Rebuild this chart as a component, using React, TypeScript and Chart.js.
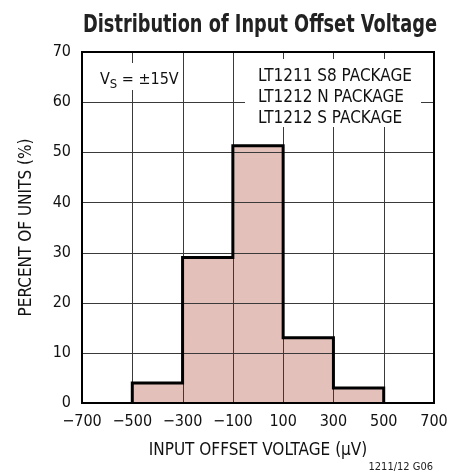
import React, { useEffect, useRef } from "react";
import { Chart, registerables } from "chart.js";

Chart.register(...registerables);

// Histogram bins (μV) and percent of units
const binEdges = [-500, -300, -100, 100, 300, 500];
const percents = [4, 29, 51.3, 13, 3];
const xTicks = [-700, -500, -300, -100, 100, 300, 500, 700];
const yTicks = [0, 10, 20, 30, 40, 50, 60, 70];
const legendLines = ["LT1211 S8 PACKAGE", "LT1212 N PACKAGE", "LT1212 S PACKAGE"];

const FONT = '"Liberation Sans Narrow", "DejaVu Sans Condensed", sans-serif';

const overlayPlugin = {
  id: "overlay",
  afterDatasetsDraw(chart: any) {
    const { ctx, chartArea: a, scales } = chart;
    const x = scales.x;
    const y = scales.y;
    ctx.save();
    // grid lines on top of the fill
    ctx.strokeStyle = "#3a3a3a";
    ctx.lineWidth = 1;
    for (const v of xTicks) {
      const px = Math.round(x.getPixelForValue(v)) + 0.5;
      ctx.beginPath();
      ctx.moveTo(px, a.top);
      ctx.lineTo(px, a.bottom);
      ctx.stroke();
    }
    for (const v of yTicks) {
      const py = Math.round(y.getPixelForValue(v)) + 0.5;
      ctx.beginPath();
      ctx.moveTo(a.left, py);
      ctx.lineTo(a.right, py);
      ctx.stroke();
    }
    // histogram outline
    ctx.strokeStyle = "#000";
    ctx.lineWidth = 3;
    ctx.lineJoin = "miter";
    ctx.beginPath();
    ctx.moveTo(x.getPixelForValue(binEdges[0]), y.getPixelForValue(0));
    for (let i = 0; i < percents.length; i++) {
      const py = y.getPixelForValue(percents[i]);
      ctx.lineTo(x.getPixelForValue(binEdges[i]), py);
      ctx.lineTo(x.getPixelForValue(binEdges[i + 1]), py);
    }
    ctx.lineTo(x.getPixelForValue(binEdges[binEdges.length - 1]), y.getPixelForValue(0));
    ctx.stroke();

    // frame
    ctx.lineWidth = 2;
    ctx.strokeStyle = "#000";
    ctx.strokeRect(a.left, a.top, a.right - a.left, a.bottom - a.top);

    // V_S annotation
    ctx.fillStyle = "#fff";
    ctx.fillRect(97, 63, 84, 27);
    ctx.fillStyle = "#111";
    ctx.textBaseline = "alphabetic";
    ctx.textAlign = "left";
    ctx.font = `16px ${FONT}`;
    ctx.fillText("V", 100, 84);
    let w = ctx.measureText("V").width;
    ctx.font = `13px ${FONT}`;
    ctx.fillText("S", 100 + w, 88);
    w += ctx.measureText("S").width;
    ctx.font = `16px ${FONT}`;
    ctx.fillText(" = \u00B115V", 100 + w, 84);

    // legend annotation
    ctx.fillStyle = "#fff";
    ctx.fillRect(245, 59, 176, 68);
    ctx.fillStyle = "#111";
    ctx.font = `17px ${FONT}`;
    legendLines.forEach((t, i) => ctx.fillText(t, 258, 81 + i * 21));

    // title (horizontally condensed)
    const title = "Distribution of Input Offset Voltage";
    ctx.font = `bold 24px ${FONT}`;
    ctx.textAlign = "left";
    ctx.fillStyle = "#222";
    const tw = ctx.measureText(title).width;
    const targetW = 354;
    const sx = Math.min(1, targetW / tw);
    ctx.save();
    ctx.translate(83, 32);
    ctx.scale(sx, 1);
    ctx.fillText(title, 0, 0);
    ctx.restore();

    // footnote
    ctx.font = `11px ${FONT}`;
    ctx.textAlign = "right";
    ctx.fillStyle = "#222";
    ctx.fillText("1211/12 G06", 433, 470);
    ctx.restore();
  },
};

export default function App() {
  const ref = useRef<HTMLCanvasElement>(null);
  useEffect(() => {
    document.body.style.margin = "0";
    const canvas = ref.current!;
    const pts: { x: number; y: number }[] = [{ x: binEdges[0], y: 0 }];
    percents.forEach((p, i) => {
      pts.push({ x: binEdges[i], y: p });
    });
    pts.push({ x: binEdges[binEdges.length - 1], y: percents[percents.length - 1] });
    pts.push({ x: binEdges[binEdges.length - 1], y: 0 });

    const chart = new Chart(canvas, {
      type: "line",
      data: {
        datasets: [
          {
            data: pts,
            stepped: "before",
            fill: "origin",
            backgroundColor: "#e3c1ba",
            borderColor: "rgba(0,0,0,0)",
            borderWidth: 0,
            pointRadius: 0,
          },
        ],
      },
      options: {
        animation: false,
        responsive: false,
        devicePixelRatio: 1,
        layout: { padding: { top: 52, right: 29, bottom: 0, left: 0 } },
        plugins: { legend: { display: false }, tooltip: { enabled: false } },
        scales: {
          x: {
            type: "linear",
            min: -700,
            max: 700,
            afterBuildTicks: (s: any) => {
              s.ticks = xTicks.map((v) => ({ value: v }));
            },
            afterFit: (s: any) => {
              s.height = 73;
            },
            grid: { display: false, drawTicks: false },
            border: { display: false },
            ticks: {
              padding: 9,
              maxRotation: 0,
              autoSkip: false,
              color: "#111",
              font: { family: FONT, size: 16 },
              callback: (v: any) => String(v).replace("-", "\u2212"),
            },
            title: {
              display: true,
              text: "INPUT OFFSET VOLTAGE (\u03BCV)",
              color: "#111",
              font: { family: FONT, size: 17 },
              padding: { top: 0, bottom: 15 },
            },
          },
          y: {
            type: "linear",
            min: 0,
            max: 70,
            afterBuildTicks: (s: any) => {
              s.ticks = yTicks.map((v) => ({ value: v }));
            },
            afterFit: (s: any) => {
              s.width = 82;
            },
            grid: { display: false, drawTicks: false },
            border: { display: false },
            ticks: {
              padding: 11,
              color: "#111",
              font: { family: FONT, size: 16 },
            },
            title: {
              display: true,
              text: "PERCENT OF UNITS (%)",
              color: "#111",
              font: { family: FONT, size: 17 },
              padding: { top: 16, bottom: 0 },
            },
          },
        },
      },
      plugins: [overlayPlugin],
    });
    return () => chart.destroy();
  }, []);
  return <canvas ref={ref} width={463} height={476} style={{ display: "block", width: 463, height: 476 }} />;
}
